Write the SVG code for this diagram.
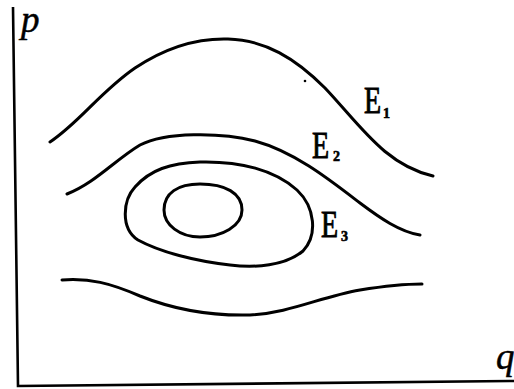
<svg xmlns="http://www.w3.org/2000/svg" width="514" height="389" viewBox="0 0 514 389">
<style>
.c{fill:none;stroke:#000;stroke-width:3;stroke-linecap:round;stroke-linejoin:round}
.ax{fill:none;stroke:#000;stroke-width:2.6}
.lab{font-family:"Liberation Serif",serif;font-size:37px;fill:#000;stroke:#000;stroke-width:0.9}
.ax-lab{font-family:"Liberation Serif",serif;font-style:italic;font-size:37px;fill:#000;stroke:#000;stroke-width:0.5}
.sub{font-family:"Liberation Serif",serif;font-weight:bold;font-size:14px;fill:#000;stroke:#000;stroke-width:0.6}
</style>
<rect width="514" height="389" fill="#fff"/>
<g id="axes">
<path class="ax" d="M13,7 L18,386 L514,381"/>
<text class="ax-lab" x="21" y="32">p</text>
<text class="ax-lab" x="496" y="369">q</text>
</g>
<g id="connectors">
<path id="curve-E1" class="c" d="M50,142 C80,122 100,92 135,68 C165,48 195,38 228,39 C265,40 295,58 325,88 C360,125 385,165 433,176"/>
<path id="curve-E2" class="c" d="M67,194 C95,183 115,160 140,145 C165,132 220,132 255,141 C295,152 330,180 360,203 C380,218 400,232 420,235"/>
<path id="curve-E3" class="c" d="M200,162 C240,161 275,170 297,190 C315,207 318,235 303,251 C285,266 255,268 230,265 C195,261 160,252 138,240 C120,228 123,200 135,187 C150,170 170,163 200,162 Z"/>
<path id="curve-inner" class="c" d="M200,184 C225,184 242,193 242,210 C242,226 222,237 200,237 C180,237 164,225 164,210 C164,193 178,184 200,184 Z"/>
<path id="curve-bottom" class="c" d="M62,280 C90,278 110,283 140,296 C175,310 210,316 250,315 C290,313 320,297 360,290 C385,286 405,284 422,284"/>
<circle cx="305" cy="81" r="1.3" fill="#000"/>
</g>
<g id="label-E1">
<text class="lab" transform="translate(364,113) scale(0.76,1)">E</text>
<text class="sub" x="383" y="118">1</text>
</g>
<g id="label-E2">
<text class="lab" transform="translate(312,158) scale(0.76,1)">E</text>
<text class="sub" x="333" y="161">2</text>
</g>
<g id="label-E3">
<text class="lab" transform="translate(321,237) scale(0.76,1)">E</text>
<text class="sub" x="341" y="241">3</text>
</g>
</svg>
